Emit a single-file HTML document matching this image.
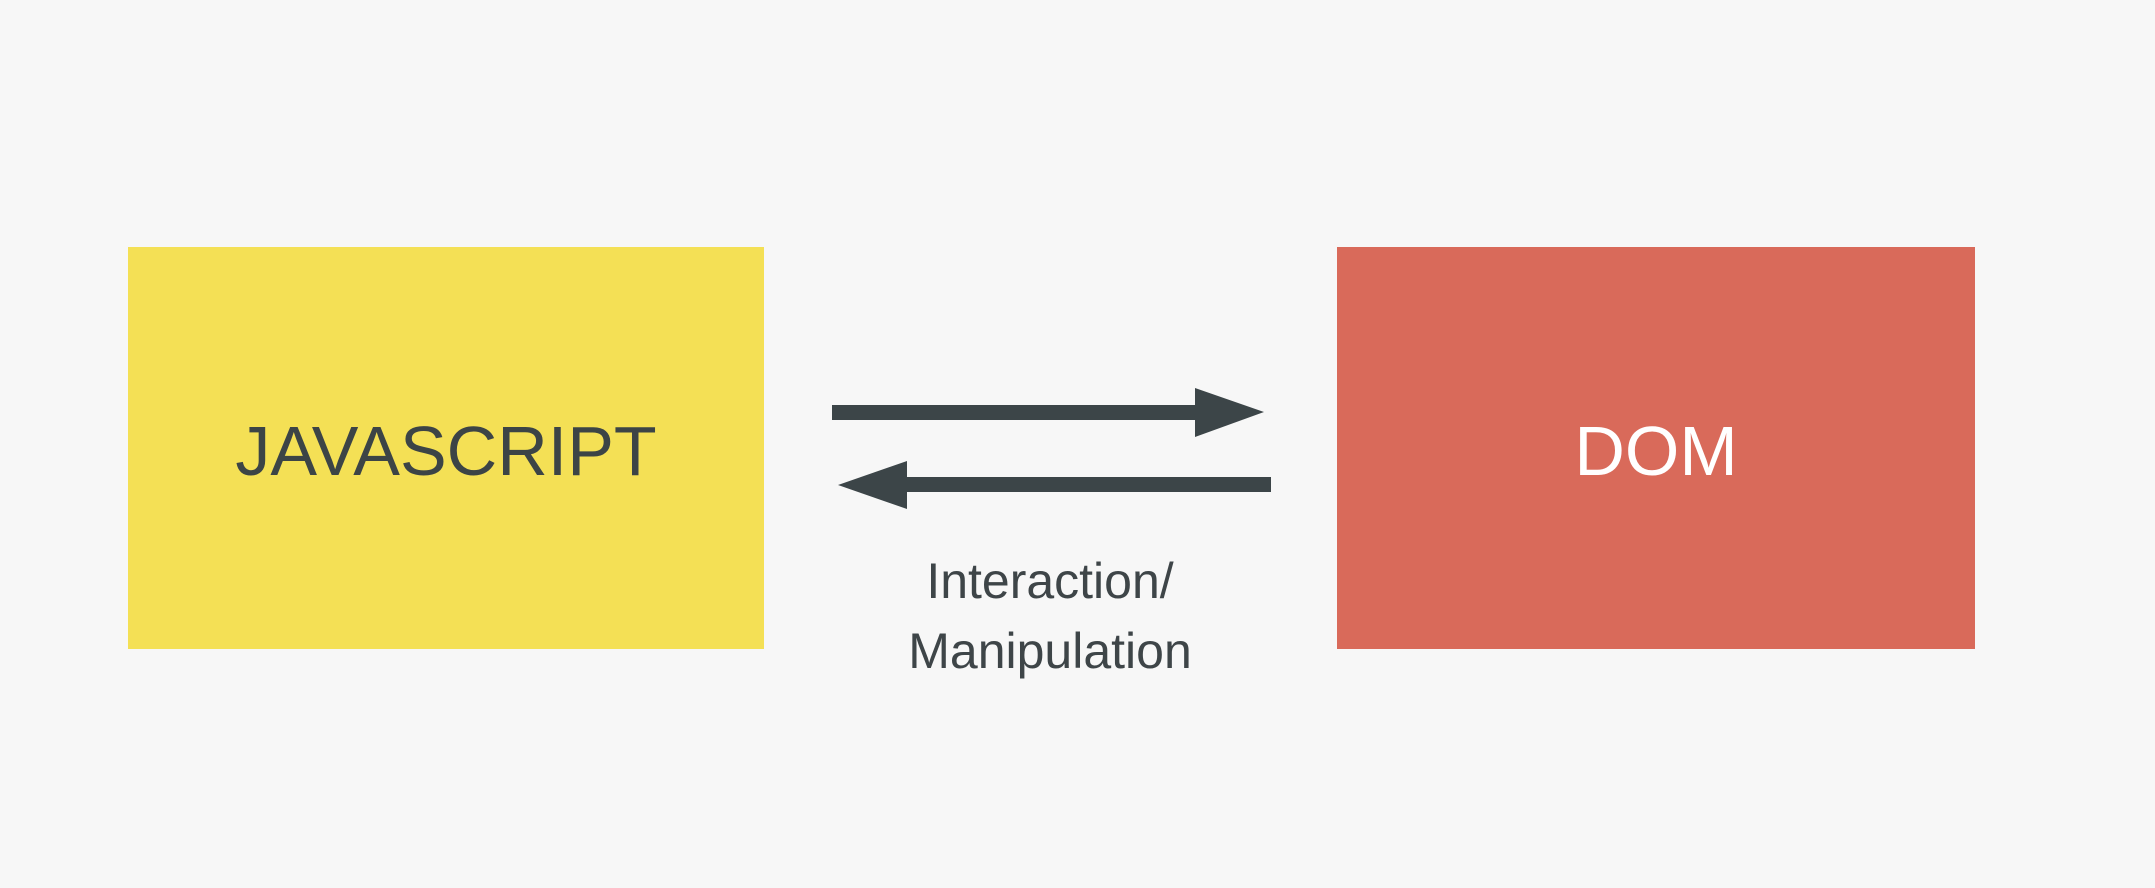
<!DOCTYPE html>
<html><head><style>
html,body{margin:0;padding:0}
body{width:2155px;height:888px;background:#f7f7f7;position:relative;overflow:hidden;font-family:"Liberation Sans",sans-serif}
.box{position:absolute;top:247px;height:402px;display:flex;align-items:center;justify-content:center;font-size:70px;padding-top:6px;box-sizing:border-box}
.t{position:absolute;width:400px;left:850px;text-align:center;color:#3e4548;font-size:50px}
</style></head><body>
<div class="box" style="left:128px;width:636px;background:#f4e055;color:#3c4446">JAVASCRIPT</div>
<div class="box" style="left:1337px;width:638px;background:#d96a5a;color:#fff">DOM</div>
<svg width="2155" height="888" style="position:absolute;left:0;top:0">
<rect x="832" y="405" width="366" height="15" fill="#3c4548"/>
<polygon points="1195,388 1264,412 1195,437" fill="#3c4548"/>
<rect x="905" y="477" width="366" height="15" fill="#3c4548"/>
<polygon points="907,461 838,485 907,509" fill="#3c4548"/>
</svg>
<div class="t" style="top:552px">Interaction/</div>
<div class="t" style="top:622px">Manipulation</div>
</body></html>
